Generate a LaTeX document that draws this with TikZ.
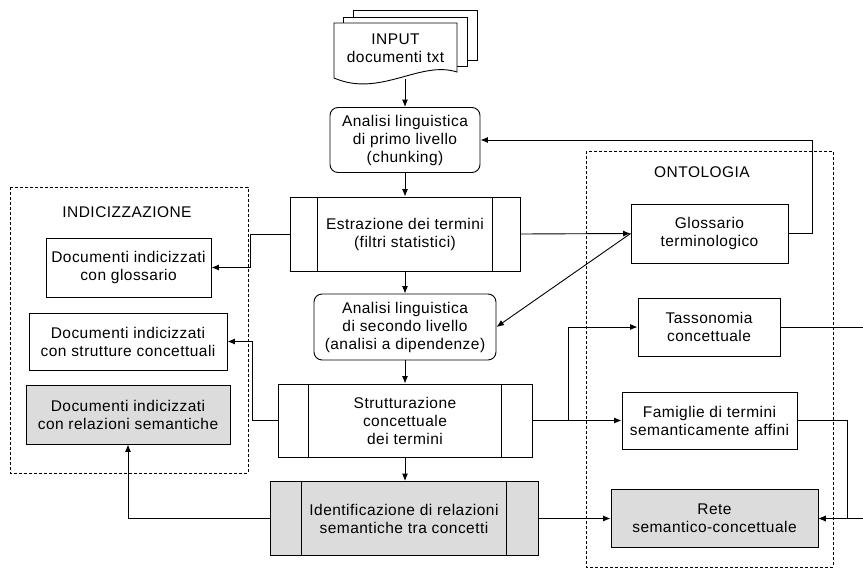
\documentclass[tikz,border=0pt]{standalone}
\usepackage{fontspec}
\setmainfont{Liberation Sans}[LetterSpace=3]
\usetikzlibrary{arrows.meta,positioning}

\definecolor{boxgray}{RGB}{220,220,220}
\tikzset{
  >={Latex[length=7.5pt,width=6pt]},
  every picture/.style={line width=0.9pt},
  box/.style={draw, align=center, inner sep=0pt, font=\fontsize{15.5}{18}\selectfont},
  roundbox/.style={box, rounded corners=8pt},
  procbox/.style={box},
  shaded/.style={fill=boxgray},
  group/.style={draw, dashed, dash pattern=on 3pt off 2pt, line width=0.7pt},
  grouptitle/.style={font=\fontsize{15.5}{18}\selectfont}
}

\begin{document}
\begin{tikzpicture}[x=1pt,y=-1pt]
        \useasboundingbox (0,0) rectangle (863,576);

        % gruppi
        \draw[group] (10,187) rectangle (248,473);
        \draw[group] (586,151) rectangle (833,567);
        \node[grouptitle] (tindex) at (127,212) {INDICIZZAZIONE};
        \node[grouptitle] (tonto) at (702,172) {ONTOLOGIA};

        % input (documenti)
        \draw[fill=white] (353,10) rectangle (477,60);
        \draw[fill=white] (343,17) rectangle (467,66);
        \draw[fill=white] (334,23) -- (457,23) -- (457,72)
            .. controls (420,60) and (380,98) .. (334,78) -- cycle;
        \node[box, draw=none] (input) at (395.5,48) {INPUT\\documenti txt};
        \coordinate (inbot) at (405,79);

        % colonna centrale
        \node[roundbox, minimum width=150, minimum height=65] at (405,140)(prim){Analisi linguistica\\di primo livello\\(chunking)};
        \node[procbox, minimum width=230, minimum height=74] at (405,234)(estr){Estrazione dei termini\\(filtri statistici)};
        \node[roundbox, minimum width=182, minimum height=66] at (405,327)(sec){Analisi linguistica\\di secondo livello\\(analisi a dipendenze)};
        \node[procbox, minimum width=254, minimum height=73] at (405,420.5)(strut){Strutturazione\\concettuale\\dei termini};
        \node[procbox, shaded, minimum width=268, minimum height=74] at (404,518.5)(ident){Identificazione di relazioni\\semantiche tra concetti};

        \foreach \n/\d in {estr/28,strut/31,ident/32}
            \draw ([xshift=\d]\n.north west) -- ([xshift=\d]\n.south west)
                  ([xshift=-\d]\n.north east) -- ([xshift=-\d]\n.south east);

        % indicizzazione
        \node[box, minimum width=165, minimum height=59] at (128.5,267.5)(docglos){Documenti indicizzati\\con glossario};
        \node[box, minimum width=198, minimum height=57] at (128,341.5)(docstrut){Documenti indicizzati\\con strutture concettuali};
        \node[box, shaded, minimum width=204, minimum height=59] at (128,414.5)(docrel){Documenti indicizzati\\con relazioni semantiche};

        % ontologia
        \node[box, minimum width=157, minimum height=59] at (709.5,233.5)(gloss){Glossario\\terminologico};
        \node[box, minimum width=142, minimum height=58] at (709,327)(tasso){Tassonomia\\concettuale};
        \node[box, minimum width=175, minimum height=57] at (709.5,420.5)(fam){Famiglie di termini\\semanticamente affini};
        \node[box, shaded, minimum width=207, minimum height=58] at (714.5,518.5)(rete){Rete\\semantico-concettuale};
        \coordinate (offr) at (872,327);

        \path[->]
        (inbot) edge (prim.north)
        (prim) edge (estr)
        (estr) edge (sec)
        (sec) edge (strut)
        (strut.south) edge (strut.south |- ident.north)
        (estr.east) edge (gloss.west)
        (gloss.west) edge (sec.east)
        (strut.east) edge (fam.west)
        (ident.east) edge (rete.west)
        ;

        \draw[->] (gloss.east) -- ++(24,0) |- (prim.east);
        \draw[->] (estr.west) -- ++(-39,0) |- (docglos.east);
        \draw[->] (strut.west) -- ++(-25,0) |- (docstrut.east);
        \draw[->] (ident.west) -| (docrel.south);
        \draw[->] (strut.east) -- ++(36,0) |- (tasso.west);
        \draw[->] (fam.east) -- ++(50,0) |- (rete.east);
        \draw[->] (tasso.east) -- (offr) |- (rete.east);
    \end{tikzpicture}
\end{document}
